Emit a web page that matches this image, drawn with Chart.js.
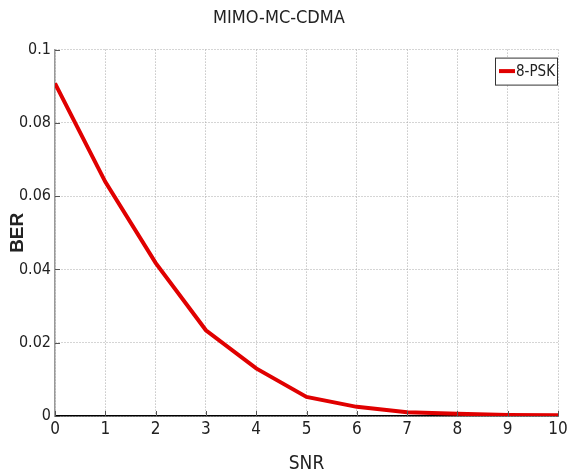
<!DOCTYPE html>
<html>
<head>
<meta charset="utf-8">
<script src="https://cdn.jsdelivr.net/npm/chart.js@4"></script>
<style>
  html, body { margin: 0; padding: 0; background: #fff; }
  #wrap { width: 573px; height: 475px; }
</style>
</head>
<body>
<div id="wrap"><canvas id="myChart" width="573" height="475"></canvas></div>
<script>
const snr = [0, 1, 2, 3, 4, 5, 6, 7, 8, 9, 10];
const ber8psk = [0.0908, 0.0639, 0.0418, 0.0234, 0.013, 0.0052, 0.0025, 0.001, 0.0006, 0.0003, 0.0002];
const seriesLabel = "8-PSK";
const chartTitle = "MIMO-MC-CDMA";

const narrow = "'Liberation Sans Narrow', 'Arial Narrow', 'DejaVu Sans Condensed', sans-serif";

// legend box drawn inside the plot, matlab style
const boxLegend = {
  id: "boxLegend",
  afterDraw(chart) {
    const c = chart.ctx;
    const area = chart.chartArea;
    const ds = chart.data.datasets[0];
    const w = 62, h = 27;
    const x = area.right - w - 1, y = area.top + 8;
    c.save();
    c.fillStyle = "#fff";
    c.fillRect(x, y, w, h);
    c.strokeStyle = "#333";
    c.lineWidth = 1;
    c.strokeRect(x + 0.5, y + 0.5, w, h);
    c.strokeStyle = ds.borderColor;
    c.lineWidth = 4;
    c.beginPath();
    c.moveTo(x + 4, y + h / 2);
    c.lineTo(x + 20, y + h / 2);
    c.stroke();
    c.fillStyle = "#222";
    c.font = "15px " + narrow;
    c.textBaseline = "middle";
    c.fillText(ds.label, x + 21, y + h / 2 + 1);
    c.restore();
  }
};

// small inward tick marks on left and bottom axes
const innerTicks = {
  id: "innerTicks",
  afterDatasetsDraw(chart) {
    const c = chart.ctx;
    const a = chart.chartArea;
    const xs = chart.scales.x, ys = chart.scales.y;
    c.save();
    c.strokeStyle = "#555";
    c.lineWidth = 1;
    c.beginPath();
    xs.ticks.forEach(t => {
      const px = Math.round(xs.getPixelForValue(t.value)) + 0.5;
      c.moveTo(px, a.bottom);
      c.lineTo(px, a.bottom - 5);
    });
    ys.ticks.forEach(t => {
      const py = Math.round(ys.getPixelForValue(t.value)) + 0.5;
      c.moveTo(a.left, py);
      c.lineTo(a.left + 5, py);
    });
    c.stroke();
    c.restore();
  }
};

new Chart(document.getElementById("myChart"), {
  type: "line",
  data: {
    labels: snr,
    datasets: [{
      label: seriesLabel,
      data: ber8psk,
      borderColor: "#e00000",
      backgroundColor: "#e00000",
      borderWidth: 4,
      pointRadius: 0,
      tension: 0
    }]
  },
  options: {
    responsive: false,
    animation: false,
    layout: { padding: { top: 0, right: 15, left: 0, bottom: 0 } },
    plugins: {
      legend: { display: false },
      tooltip: { enabled: false },
      title: {
        display: true,
        text: chartTitle,
        color: "#222",
        font: { family: narrow, size: 18, weight: "normal" },
        padding: { top: 8, bottom: 20 }
      }
    },
    scales: {
      x: {
        type: "linear",
        min: 0,
        max: 10,
        afterFit(s) { s.height = 59; },
        ticks: {
          stepSize: 1,
          color: "#222",
          font: { family: narrow, size: 17 },
          padding: 3
        },
        grid: {
          color: "#aaa",
          lineWidth: 1,
          drawTicks: false
        },
        border: { display: true, color: "#000", width: 1.5, dash: [1, 2] },
        title: {
          display: true,
          text: "SNR",
          color: "#222",
          font: { family: narrow, size: 19 },
          padding: { top: 0, bottom: 0 }
        }
      },
      y: {
        min: 0,
        max: 0.1,
        afterFit(s) { s.width = 55; },
        ticks: {
          stepSize: 0.02,
          color: "#222",
          font: { family: narrow, size: 16 },
          padding: 4,
          callback: (v) => (v === 0 ? "0" : String(Math.round(v * 100) / 100))
        },
        grid: {
          color: "#aaa",
          lineWidth: 1,
          drawTicks: false
        },
        border: { display: true, color: "#999", width: 1.5, dash: [1, 2] },
        title: {
          display: true,
          text: "BER",
          color: "#222",
          font: { family: "'Liberation Sans', Arial, sans-serif", size: 19, weight: "bold" },
          padding: { top: 6, bottom: 4 }
        }
      }
    }
  },
  plugins: [boxLegend, innerTicks]
});
</script>
</body>
</html>
